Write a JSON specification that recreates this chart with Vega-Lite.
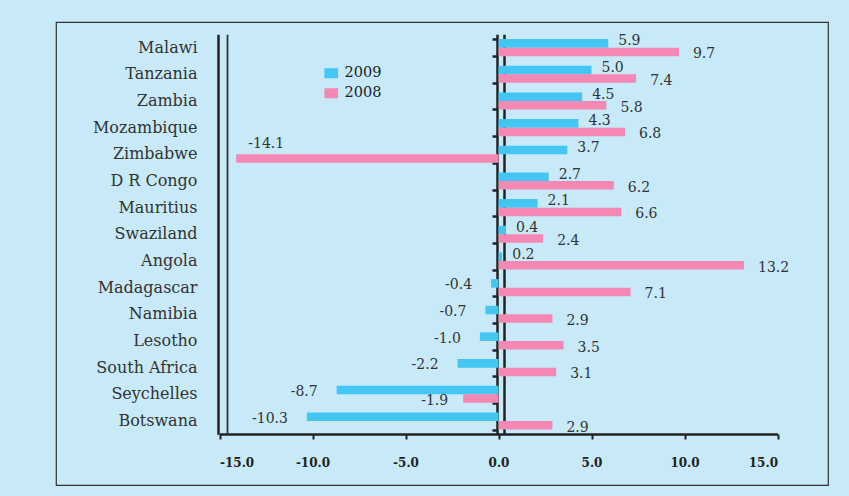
{
  "$schema": "https://vega.github.io/schema/vega-lite/v6.json",
  "width": 772,
  "height": 463,
  "autosize": {"type": "none"},
  "padding": {"left": 56, "top": 22, "right": 21, "bottom": 11},
  "background": "#c7e9f8",
  "config": {
    "view": {"stroke": "#333333", "strokeWidth": 1.2},
    "font": "DejaVu Serif",
    "locale": {"number": {"decimal": ".", "thousands": ",", "grouping": [3], "currency": ["$", ""], "minus": "-"}}
  },
  "data": {
    "values": [
      {"country": "Malawi", "year": "2009", "value": 5.9},
      {"country": "Malawi", "year": "2008", "value": 9.7},
      {"country": "Tanzania", "year": "2009", "value": 5.0},
      {"country": "Tanzania", "year": "2008", "value": 7.4},
      {"country": "Zambia", "year": "2009", "value": 4.5},
      {"country": "Zambia", "year": "2008", "value": 5.8},
      {"country": "Mozambique", "year": "2009", "value": 4.3},
      {"country": "Mozambique", "year": "2008", "value": 6.8},
      {"country": "Zimbabwe", "year": "2009", "value": 3.7},
      {"country": "Zimbabwe", "year": "2008", "value": -14.1},
      {"country": "D R Congo", "year": "2009", "value": 2.7},
      {"country": "D R Congo", "year": "2008", "value": 6.2},
      {"country": "Mauritius", "year": "2009", "value": 2.1},
      {"country": "Mauritius", "year": "2008", "value": 6.6},
      {"country": "Swaziland", "year": "2009", "value": 0.4},
      {"country": "Swaziland", "year": "2008", "value": 2.4},
      {"country": "Angola", "year": "2009", "value": 0.2},
      {"country": "Angola", "year": "2008", "value": 13.2},
      {"country": "Madagascar", "year": "2009", "value": -0.4},
      {"country": "Madagascar", "year": "2008", "value": 7.1},
      {"country": "Namibia", "year": "2009", "value": -0.7},
      {"country": "Namibia", "year": "2008", "value": 2.9},
      {"country": "Lesotho", "year": "2009", "value": -1.0},
      {"country": "Lesotho", "year": "2008", "value": 3.5},
      {"country": "South Africa", "year": "2009", "value": -2.2},
      {"country": "South Africa", "year": "2008", "value": 3.1},
      {"country": "Seychelles", "year": "2009", "value": -8.7},
      {"country": "Seychelles", "year": "2008", "value": -1.9},
      {"country": "Botswana", "year": "2009", "value": -10.3},
      {"country": "Botswana", "year": "2008", "value": 2.9}
    ]
  },
  "layer": [
    {
      "mark": {"type": "bar"},
      "encoding": {
        "y": {
          "field": "country", "type": "nominal", "sort": null,
          "scale": {"range": [12.3, 412.3], "paddingInner": 0.36, "paddingOuter": 0.18},
          "axis": {"orient": "left", "offset": -141, "domain": false, "ticks": false, "labelPadding": 0, "labelFontSize": 16, "labelColor": "#333333", "title": null}
        },
        "x": {
          "field": "value", "type": "quantitative",
          "scale": {"domain": [-15, 15], "range": [163.5, 721.5], "nice": false, "zero": false},
          "axis": {"orient": "bottom", "offset": -51, "values": [-15, -10, -5, 0, 5, 10, 15], "format": ".1f", "grid": false, "title": null, "domainColor": "#222222", "domainWidth": 2.5, "tickColor": "#222222", "tickWidth": 2, "tickSize": 5, "labelFontSize": 12, "labelFontWeight": "bold", "labelColor": "#222222", "labelPadding": 18}
        },
        "yOffset": {"field": "year", "type": "nominal", "scale": {"domain": ["2009", "2008"], "paddingInner": 0, "paddingOuter": 0}},
        "color": {
          "field": "year", "type": "nominal",
          "scale": {"domain": ["2009", "2008"], "range": ["#43c6f1", "#f388b4"]},
          "legend": {"orient": "none", "legendX": 268, "legendY": 44, "title": null, "symbolType": "M-1,-0.73H1V0.73H-1Z", "symbolSize": 188, "symbolStrokeWidth": 0, "labelFontSize": 14.5, "labelColor": "#222222", "labelOffset": 6, "rowPadding": 5}
        }
      }
    },
    {
      "mark": {
        "type": "text",
        "fontSize": 14,
        "color": "#333333",
        "baseline": "middle",
        "align": {"expr": "datum.value < -12 || datum.value >= 0 ? 'left' : 'right'"},
        "dx": {"expr": "datum.value < -12 ? 12 : datum.value >= 0 ? (datum.year == '2009' ? 10 : 14) : (datum.year == '2009' ? -19 : -15)"},
        "dy": {"expr": "datum.value < -12 ? -15 : datum.year == '2009' ? (datum.value >= 0 ? -2 : 2) : 2.5"}
      },
      "encoding": {
        "y": {
          "field": "country", "type": "nominal", "sort": null,
          "axis": {"orient": "left", "offset": -441, "labels": false, "domain": true, "domainColor": "#222222", "domainWidth": 2.5, "ticks": true, "tickBand": "extent", "tickSize": 5, "tickWidth": 2.5, "tickColor": "#222222", "title": null}
        },
        "x": {"field": "value", "type": "quantitative", "axis": null},
        "yOffset": {"field": "year", "type": "nominal"},
        "text": {"field": "value", "type": "quantitative", "format": ".1f"}
      }
    },
    {
      "mark": {"type": "text", "text": ""},
      "encoding": {
        "y": {
          "field": "country", "type": "nominal", "sort": null,
          "axis": {"orient": "left", "offset": -162, "labels": false, "ticks": false, "domain": true, "domainColor": "#222222", "domainWidth": 2.5, "title": null}
        }
      }
    },
    {
      "mark": {"type": "text", "text": ""},
      "encoding": {
        "y": {
          "field": "country", "type": "nominal", "sort": null,
          "axis": {"orient": "left", "offset": -171, "labels": false, "ticks": false, "domain": true, "domainColor": "#333333", "domainWidth": 1.8, "title": null}
        }
      }
    },
    {
      "mark": {"type": "text", "text": ""},
      "encoding": {
        "y": {
          "field": "country", "type": "nominal", "sort": null,
          "axis": {"orient": "left", "offset": -448, "labels": false, "ticks": false, "domain": true, "domainColor": "#222222", "domainWidth": 2.5, "title": null}
        }
      }
    }
  ],
  "resolve": {"axis": {"x": "independent", "y": "independent"}}
}
